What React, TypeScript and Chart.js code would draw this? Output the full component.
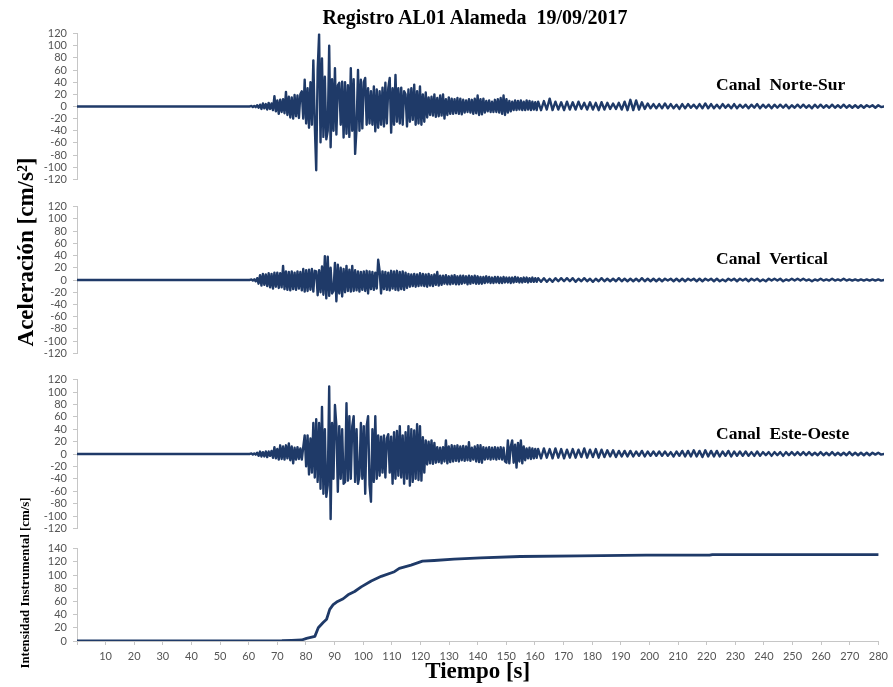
import React, { useEffect, useRef } from "react";
import { Chart, registerables } from "chart.js";

Chart.register(...registerables);

// ---------- sampling grid (seconds) ----------
const PRE_START = 0;
const PRE_STEP = 5;
const ACT_START = 60;
const ACT_STEP = 0.5;
const TAIL_START = 161;
const TAIL_STEP = 1;

const X_MIN = 0;
const X_MAX = 280;
const X_STEP = 10;
const ACC_MIN = -120;
const ACC_MAX = 120;
const ACC_STEP = 20;
const INT_MIN = 0;
const INT_MAX = 140;
const INT_STEP = 20;

const TITLE = "Registro AL01 Alameda  19/09/2017";
const Y_TITLE = "Aceleración [cm/s²]";
const Y4_TITLE = "Intensidad Instrumental [cm/s]";
const X_TITLE = "Tiempo [s]";
const CHANNELS = ["Canal  Norte-Sur", "Canal  Vertical", "Canal  Este-Oeste"];

// ---------- Canal Norte-Sur (cm/s²) ----------
const NS_PRE = [0, 0, 0, 0, 0, 0, 0, 0, 0, 0, 0, 0];
const NS_ACT = [
  0, 1, -1, 1, -1, 2, -2, 3, -4, 5,
  -3, 4, -5, 6, -4, 5, -6, 17, -8, 10,
  -12, 11, -9, 12, -11, 24, -14, 16, -18, 15,
  -20, 19, -16, 18, -19, 20, 25, -20, 44, -28,
  30, -35, 40, -30, 76, -30, -105, 60, 119, -59,
  79, -50, 49, -54, -40, 100, -67, 45, -40, 63,
  -46, 35, 39, -30, 41, -51, 40, -45, 35, -50,
  63, -40, 45, -78, -35, 60, -40, 44, -36, 40,
  47, -30, 30, -28, 25, -30, 33, -41, 28, -35,
  25, -30, 31, -33, 39, -28, 30, 47, -43, 30,
  -30, 52, -25, 30, -28, 31, -30, 25, 20, -33,
  28, -25, 30, -22, 36, -30, 25, -28, 33, -30,
  20, -25, 23, -18, 15, -14, 16, -15, 20, -17,
  14, -16, 18, -15, 20, -20, 12, -14, 15, -12,
  13, -12, 12, -11, 14, -12, 13, -13, 11, -10,
  10, -9, 12, -10, 11, -12, 13, -11, 18, -14,
  12, -13, 13, -10, 9, -8, 10, -9, 8, -9,
  11, -9, 12, -10, 14, -12, 18, -14, 12, -10,
  9, -8, 8, -6, 10, -6, 9, -5, 10, -6,
  8, -6, 10, -5, 9, -6, 8, -5, 7, -6,
  8,
];
const NS_TAIL = [
  -6, 9, -5, 13, -6, 8, -5, 7, -6, 8,
  -5, 7, -5, 8, -4, 6, -5, 7, -5, 6,
  -6, 7, -5, 6, -4, 5, -4, 6, -5, 8,
  -6, 11, -6, 10, -5, 7, -4, 5, -3, 4,
  -3, 4, -3, 5, -3, 4, -3, 3, -4, 4,
  -3, 4, -2, 3, -3, 4, -3, 5, -3, 4,
  -3, 3, -3, 4, -2, 3, -3, 4, -3, 3,
  -2, 3, -3, 3, -2, 4, -3, 3, -2, 3,
  -3, 3, -2, 3, -2, 3, -3, 2, -2, 3,
  -2, 3, -2, 2, -3, 3, -2, 3, -2, 2,
  -2, 3, -2, 2, -2, 3, -2, 2, -2, 2,
  -2, 2, -2, 2, -1, 2, -2, 2, -1, 0,
];

// ---------- Canal Vertical (cm/s²) ----------
const V_PRE = [0, 0, 0, 0, 0, 0, 0, 0, 0, 0, 0, 0];
const V_ACT = [
  0, 1, -1, 1, -2, 3, -6, 8, -9, 10,
  -8, 9, -10, 11, -12, 10, -14, 12, -11, 12,
  -13, 11, -12, 23, -15, 14, -16, 13, -17, 14,
  -15, 12, -16, 14, -14, 13, -17, 18, -19, 16,
  -18, 17, -16, 18, -19, 15, 14, -25, 16, -20,
  22, -24, 39, -30, 38, -26, 20, -22, -18, 28,
  -35, 25, -22, 20, -27, 18, -20, 23, -18, 17,
  -19, 23, -18, 16, -17, 14, -19, 13, -16, 14,
  -18, 15, -22, 14, -15, 13, -16, 12, -14, 33,
  15, -22, 14, -15, 13, -16, 12, -17, 15, -14,
  14, -16, 15, -17, 13, -15, 14, -16, 12, -13,
  10, -11, 9, -10, 10, -11, 9, -10, 11, -9,
  10, -10, 9, -11, 10, -9, 8, -10, 9, -8,
  13, -9, 7, -8, 7, -6, 8, -7, 6, -7,
  7, -6, 8, -7, 6, -7, 7, -6, 7, -5,
  6, -7, 7, -6, 6, -5, 7, -6, 6, -6,
  5, -6, 5, -5, 6, -4, 5, -5, 4, -5,
  5, -4, 5, -5, 4, -5, 5, -4, 4, -4,
  4, -5, 4, -4, 5, -3, 4, -4, 3, -4,
  4, -3, 4, -4, 3, -3, 4, -3, 3, -3,
  3,
];
const V_TAIL = [
  -3, 3, -3, 2, -3, 3, -2, 3, -2, 3,
  -2, 3, -3, 2, -2, 3, -2, 2, -3, 2,
  -2, 3, -2, 2, -2, 2, -2, 3, -2, 2,
  -2, 2, -2, 2, -2, 3, -2, 2, -2, 2,
  -2, 2, -2, 2, -1, 2, -2, 2, -2, 2,
  -2, 2, -1, 2, -2, 2, -2, 2, -1, 2,
  -2, 2, -2, 1, -2, 2, -1, 2, -2, 2,
  -1, 2, -2, 2, -1, 2, -2, 1, -2, 2,
  -1, 2, -1, 2, -2, 1, -1, 2, -1, 2,
  -1, 2, -1, 1, -2, 1, -1, 2, -1, 1,
  -1, 2, -1, 1, -1, 2, -1, 1, -1, 1,
  -1, 1, -1, 1, -1, 1, -1, 1, -1, 0,
];

// ---------- Canal Este-Oeste (cm/s²) ----------
const EW_PRE = [0, 0, 0, 0, 0, 0, 0, 0, 0, 0, 0, 0];
const EW_ACT = [
  0, 1, -1, 1, -1, 2, -3, 4, -4, 3,
  -4, 4, -5, 4, -3, 5, -6, 11, -7, 8,
  -9, 14, -8, 12, -9, 14, -7, 17, -10, 12,
  -15, 10, -9, 11, -8, 9, -9, 11, 30, -20,
  30, -33, 25, -30, 50, -38, 56, -45, 50, -56,
  76, -64, 40, -69, -50, 109, -105, 50, -40, 79,
  45, -61, 45, -40, 40, -48, -45, 82, -43, 61,
  -40, 45, 61, -45, 40, -48, -35, 50, -40, 45,
  -64, 45, 61, -50, -77, 40, -45, 61, -40, 30,
  -35, 28, -30, 30, -38, 25, 32, -30, 28, -48,
  35, -40, 37, -35, 45, -38, 30, -48, 35, -40,
  45, -51, 40, -45, 38, -40, 48, -42, 45, -43,
  27, -30, 22, -17, 20, -15, 22, -16, 18, -14,
  11, -13, 10, -15, 11, -12, 22, -15, 12, -13,
  14, -12, 13, -11, 14, -12, 12, -10, 13, -11,
  12, -10, 19, -11, 10, -9, 12, -12, 14, -13,
  14, -14, 11, -9, 10, -8, 11, -9, 10, -8,
  11, -9, 10, -8, 11, -9, 10, -12, -14, 22,
  -15, 12, 22, -14, 15, -22, 18, -12, 22, -15,
  12, -10, 9, -7, 10, -8, 9, -7, 8, -6,
  8,
];
const EW_TAIL = [
  -7, 9, -6, 8, -7, 9, -6, 8, -7, 7,
  -6, 8, -6, 7, -5, 9, -6, 7, -5, 8,
  -6, 7, -5, 6, -4, 6, -5, 5, -4, 5,
  -4, 5, -4, 4, -3, 5, -4, 4, -3, 4,
  -3, 4, -3, 4, -3, 3, -4, 4, -3, 5,
  -4, 5, -4, 6, -4, 5, -5, 6, -4, 5,
  -4, 5, -4, 4, -3, 5, -4, 4, -3, 4,
  -3, 4, -3, 3, -3, 4, -3, 3, -2, 3,
  -3, 3, -2, 3, -3, 3, -2, 3, -2, 3,
  -2, 3, -2, 3, -2, 2, -2, 3, -2, 2,
  -2, 3, -2, 2, -2, 2, -2, 3, -2, 2,
  -2, 2, -2, 2, -2, 2, -1, 2, -1, 0,
];

// ---------- Intensidad Instrumental (cm/s) ----------
const INT_T = [0, 60, 71.6, 75, 78.5, 80.2, 83.1, 84.3, 86, 87.2, 88.3, 89.5, 90.7, 93, 94.7, 97, 99.3, 102.8, 106.3, 110.9, 112.6, 116.7, 120.7, 124.8, 131.7, 141, 154.9, 175.7, 198.8, 221, 222, 280];
const INT_V = [0, 0, 0.5, 1, 1.5, 4, 7, 20, 28, 33, 48, 55, 59, 64, 70, 75, 82, 91, 98, 105, 110, 115, 121, 122, 124, 126, 128, 129, 130, 130, 131, 131];

// ---------- style ----------
const LINE = "#1f3a68";
const AXIS = "#c6c6c6";
const TICK_TEXT = "#555555";
const TICK_FONT = { family: "Lato", size: 11 };
const SERIF = "'Liberation Serif', 'Times New Roman', serif";
const W = 893;
const PLOT_LEFT = 77;
const PAD_RIGHT = 9;

function buildSeries(pre: number[], act: number[], tail: number[]) {
  const pts: { x: number; y: number }[] = [];
  pre.forEach((v, i) => pts.push({ x: PRE_START + i * PRE_STEP, y: v }));
  act.forEach((v, i) => pts.push({ x: ACT_START + i * ACT_STEP, y: v }));
  tail.forEach((v, i) => pts.push({ x: TAIL_START + i * TAIL_STEP, y: v }));
  return pts;
}

function makeConfig(
  points: { x: number; y: number }[],
  ymin: number,
  ymax: number,
  ystep: number,
  showX: boolean,
  lineWidth: number,
  padTop: number,
  padBottom: number
): any {
  const xScale: any = {
    type: "linear",
    min: X_MIN,
    max: X_MAX,
    display: showX,
    border: { display: true, color: AXIS, width: 1 },
    grid: { drawOnChartArea: false, drawTicks: true, tickLength: 4, color: AXIS },
    ticks: {
      stepSize: X_STEP,
      autoSkip: false,
      maxRotation: 0,
      padding: 5,
      color: TICK_TEXT,
      font: TICK_FONT,
      callback: (v: any) => (v === 0 ? "" : String(v)),
    },
    title: {
      display: showX,
      text: X_TITLE,
      color: "#000",
      font: { family: SERIF, size: 23, weight: "bold" },
      padding: { top: 0, bottom: 1 },
    },
  };
  if (showX) {
    xScale.afterFit = (s: any) => {
      s.height = 46;
    };
  }
  return {
    type: "line",
    data: {
      datasets: [
        {
          data: points,
          borderColor: LINE,
          borderWidth: lineWidth,
          borderJoinStyle: "round",
          borderCapStyle: "round",
          pointRadius: 0,
          tension: 0,
          fill: false,
        },
      ],
    },
    options: {
      animation: false,
      responsive: false,
      events: [],
      layout: { padding: { left: 0, right: PAD_RIGHT, top: padTop, bottom: padBottom } },
      plugins: { legend: { display: false }, tooltip: { enabled: false }, title: { display: false } },
      scales: {
        x: xScale,
        y: {
          min: ymin,
          max: ymax,
          afterFit: (s: any) => {
            s.width = PLOT_LEFT;
          },
          border: { display: true, color: AXIS, width: 1 },
          grid: { drawOnChartArea: false, drawTicks: true, tickLength: 4, color: AXIS },
          ticks: { stepSize: ystep, autoSkip: false, padding: 6, color: TICK_TEXT, font: TICK_FONT },
        },
      },
    },
  };
}

function ChartBox({ top, height, config }: { top: number; height: number; config: () => any }) {
  const ref = useRef<HTMLCanvasElement | null>(null);
  useEffect(() => {
    if (!ref.current) return;
    const chart = new Chart(ref.current, config());
    return () => chart.destroy();
  }, []);
  return (
    <div style={{ position: "absolute", left: 0, top, width: W, height }}>
      <canvas ref={ref} width={W} height={height} style={{ display: "block", width: W, height }} />
    </div>
  );
}

function Label({
  text,
  x,
  y,
  size,
  rotate,
  anchor,
}: {
  text: string;
  x: number;
  y: number;
  size: number;
  rotate?: boolean;
  anchor?: "left" | "center";
}) {
  const tx = anchor === "left" ? "0" : "-50%";
  return (
    <div
      style={{
        position: "absolute",
        left: x,
        top: y,
        transform: `translate(${tx}, -50%)${rotate ? " rotate(-90deg)" : ""}`,
        transformOrigin: anchor === "left" ? "left center" : "center center",
        fontFamily: SERIF,
        fontWeight: "bold",
        fontSize: size,
        lineHeight: 1,
        whiteSpace: "pre",
        color: "#000",
      }}
    >
      {text}
    </div>
  );
}

export default function App() {
  const ns = buildSeries(NS_PRE, NS_ACT, NS_TAIL);
  const v = buildSeries(V_PRE, V_ACT, V_TAIL);
  const ew = buildSeries(EW_PRE, EW_ACT, EW_TAIL);
  const intensity = INT_T.map((t, i) => ({ x: t, y: INT_V[i] }));

  return (
    <div style={{ position: "absolute", left: 0, top: 0, width: W, height: 687, background: "#fff", overflow: "hidden" }}>
      <ChartBox top={21} height={171} config={() => makeConfig(ns, ACC_MIN, ACC_MAX, ACC_STEP, false, 2.4, 10, 10)} />
      <ChartBox top={194} height={172} config={() => makeConfig(v, ACC_MIN, ACC_MAX, ACC_STEP, false, 2.4, 10, 10)} />
      <ChartBox top={367} height={174} config={() => makeConfig(ew, ACC_MIN, ACC_MAX, ACC_STEP, false, 2.4, 10, 10)} />
      <ChartBox top={536} height={151} config={() => makeConfig(intensity, INT_MIN, INT_MAX, INT_STEP, true, 2.8, 10, 0)} />

      <Label text={TITLE} x={475} y={17} size={20} />
      <Label text={CHANNELS[0]} x={716} y={85} size={17.5} anchor="left" />
      <Label text={CHANNELS[1]} x={716} y={259} size={17.5} anchor="left" />
      <Label text={CHANNELS[2]} x={716} y={434} size={17.5} anchor="left" />
      <Label text={Y_TITLE} x={25} y={252} size={23} rotate />
      <Label text={Y4_TITLE} x={25} y={583} size={12.9} rotate />
    </div>
  );
}
